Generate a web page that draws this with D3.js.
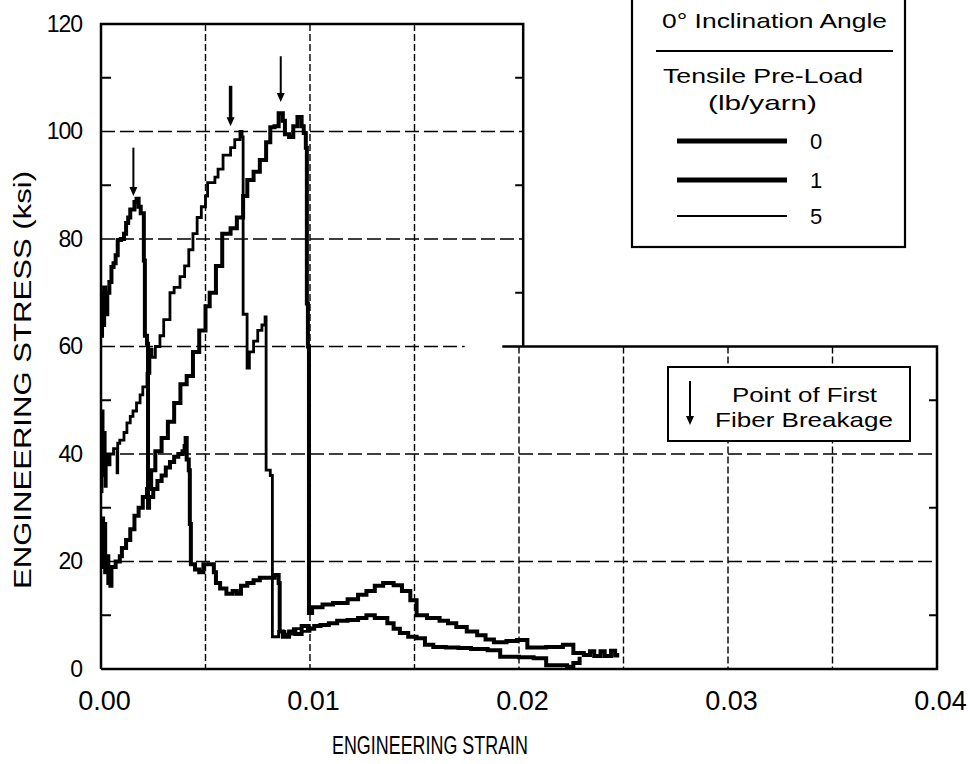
<!DOCTYPE html>
<html><head><meta charset="utf-8">
<script src="https://cdn.jsdelivr.net/npm/d3@7"></script>
<style>
html,body{margin:0;padding:0;background:#fff;}
svg{display:block;font-family:"Liberation Sans",Arial,sans-serif;}
text{fill:#000;}
</style></head>
<body><svg id="c" width="970" height="764"></svg>
<script>
// ---------- data ----------
const seriesNames = ["0", "1", "5"];
// 0 lb/yarn pre-load (peak ~103 ksi)
const load0 = [[0,20],[0.00005,28],[0.0001,19],[0.00015,27],[0.0002,18],[0.0003,21],[0.00035,16],[0.00045,15.5],[0.0005,19],[0.0007,20],[0.0009,21],[0.001,22.5],[0.0012,24],[0.0014,26],[0.0016,28.5],[0.0018,30],[0.002,32],[0.0022,33.5],[0.0024,37],[0.0026,40.5],[0.0029,43],[0.0032,46],[0.0035,49.5],[0.0038,53],[0.0041,54.5],[0.0044,59],[0.0047,63],[0.005,67.5],[0.0052,70],[0.0055,75],[0.0058,81],[0.0062,82],[0.0065,84],[0.0068,88],[0.007,91],[0.0073,92.5],[0.0076,94.7],[0.0079,98],[0.0081,100.8],[0.0083,101],[0.0085,103.4],[0.0087,102],[0.0088,99.5],[0.009,99],[0.0092,101],[0.0094,102.7],[0.0096,101],[0.0097,99.7],[0.0098,97],[0.00985,68],[0.0099,60],[0.00995,10.4],[0.0101,11.5],[0.0106,12],[0.0111,12.3],[0.0118,13],[0.0123,13.8],[0.0127,14.5],[0.0131,15.5],[0.0135,16],[0.014,15.6],[0.0144,14.5],[0.0148,12.8],[0.0151,10],[0.0156,9.5],[0.0162,9],[0.0166,8.5],[0.017,7.8],[0.0175,7],[0.018,6.3],[0.0184,5.5],[0.0188,5],[0.0194,5.2],[0.0199,5.4],[0.0204,4],[0.0213,4.1],[0.0221,4.5],[0.0226,3],[0.0231,2.6],[0.0234,3.3],[0.0236,2.4],[0.0239,3.3],[0.0241,2.4],[0.0244,3.4],[0.0246,2.5],[0.0247,3]];
// 1 lb/yarn pre-load (first breakage ~87 ksi)
const load1 = [[0,62],[0.00005,70],[0.0001,64],[0.00015,71],[0.0002,66],[0.0003,70],[0.0004,72],[0.0005,74.8],[0.0006,75.5],[0.0007,77],[0.0008,79.8],[0.00095,80],[0.0011,81],[0.0012,83],[0.0013,84],[0.0014,85.5],[0.0016,86.9],[0.0017,87.5],[0.0018,86],[0.0019,84.8],[0.00205,76],[0.0021,62],[0.0022,60.5],[0.00225,30],[0.0023,32],[0.0025,33.5],[0.0027,35],[0.0029,36],[0.0031,37.5],[0.0033,38.5],[0.0035,39.5],[0.0037,40],[0.0039,40.5],[0.004,41.5],[0.00405,43],[0.0041,39],[0.0042,37],[0.00425,27],[0.0043,19.5],[0.0045,18.5],[0.0047,18],[0.0049,19.5],[0.0052,19.5],[0.0054,18],[0.0055,16],[0.0057,15],[0.006,14],[0.0063,14.5],[0.0065,14],[0.0067,15.5],[0.007,16],[0.0073,16.5],[0.0076,17],[0.0079,17],[0.0083,17.5],[0.0085,16],[0.00855,7],[0.0087,6],[0.009,7],[0.0093,6.5],[0.0096,8],[0.0099,7.5],[0.0102,8],[0.0105,8.2],[0.0109,8.5],[0.0113,9],[0.0118,9.1],[0.0123,9.5],[0.0127,10],[0.0131,9.5],[0.0137,8.5],[0.014,7.5],[0.0143,6.7],[0.0147,6],[0.0151,5.7],[0.0155,4.5],[0.0159,4.1],[0.0165,4],[0.0171,3.9],[0.0177,3.7],[0.0185,3.5],[0.0191,2.3],[0.02,2.2],[0.0207,2],[0.0213,0.7],[0.0223,0.4],[0.0226,1.1],[0.0229,2.3]];
// 5 lb/yarn pre-load (peak ~100 ksi)
const load5 = [[0,33],[0.00005,48],[0.0001,36],[0.00015,44],[0.0002,34],[0.00025,40],[0.0003,38],[0.00043,40],[0.0006,41],[0.00077,36.5],[0.0008,42],[0.0009,42.6],[0.0011,44],[0.00124,45.8],[0.0014,47],[0.00153,48],[0.0017,49.5],[0.00187,51],[0.002,52.5],[0.0022,55],[0.00234,59.5],[0.00244,58],[0.0026,60],[0.00282,62],[0.003,65],[0.0033,70],[0.0035,71],[0.00378,73],[0.004,75],[0.0042,78],[0.0044,81],[0.0046,84],[0.0048,86],[0.005,88],[0.0051,90.5],[0.00545,91.5],[0.0056,93],[0.00584,95.6],[0.0062,97],[0.0064,98.5],[0.00665,100],[0.00675,99],[0.0068,66],[0.00699,56],[0.0071,59],[0.0073,61],[0.0075,63],[0.0077,64],[0.00785,65.5],[0.0079,37],[0.0081,36],[0.0082,6],[0.0085,7],[0.0088,6.5],[0.0092,7.5],[0.0096,7],[0.01,8]];
// points of first fiber breakage: [strain, arrow top stress, arrow tip stress]
const breakArrows = [[0.00155, 97, 88], [0.0062, 108.5, 101], [0.0086, 114, 105.5]];
const xTicks = [0, 0.01, 0.02, 0.03, 0.04];
const yTicks = [0, 20, 40, 60, 80, 100, 120];
const yMinor = [10, 30, 50, 70, 90, 110];
const xGrid = [0.005, 0.01, 0.015, 0.02, 0.025, 0.03, 0.035];
const yGrid = [20, 40, 60, 80, 100];

// ---------- layout ----------
const svg = d3.select("#c");
const x = d3.scaleLinear().domain([0, 0.04]).range([101, 937]);
const y = d3.scaleLinear().domain([0, 120]).range([669, 24]);
const xBreak = 0.0202;   // right edge of upper part of the frame
const yBreak = 60;       // bottom edge of upper-right cut-out

const g = svg.append("g");
// grid
xGrid.forEach(v => {
  g.append("line").attr("x1", x(v)).attr("x2", x(v))
    .attr("y1", v < 0.0195 ? y(120) : y(yBreak)).attr("y2", y(0))
    .attr("stroke", "#000").attr("stroke-width", 1.4).attr("stroke-dasharray", "7,3");
});
yGrid.forEach(v => {
  let x2 = x(0.04);
  if (v === 60) x2 = x(0.0174);
  if (v > 60) x2 = x(xBreak);
  g.append("line").attr("x1", x(0)).attr("x2", x2)
    .attr("y1", y(v)).attr("y2", y(v))
    .attr("stroke", "#000").attr("stroke-width", 1.6).attr("stroke-dasharray", "14,5");
});
// frame
const fl = d3.line().x(d=>x(d[0])).y(d=>y(d[1]));
g.append("path").attr("d", fl([[0,0],[0,120],[xBreak,120],[xBreak,yBreak]]))
  .attr("fill","none").attr("stroke","#000").attr("stroke-width",2.5);
g.append("path").attr("d", fl([[0.0192,yBreak],[0.04,yBreak],[0.04,0],[0,0]]))
  .attr("fill","none").attr("stroke","#000").attr("stroke-width",2.5);
// minor ticks
yMinor.forEach(v => {
  g.append("line").attr("x1", x(0)).attr("x2", x(0)+10).attr("y1", y(v)).attr("y2", y(v)).attr("stroke","#000").attr("stroke-width",2);
  if (v > 60) g.append("line").attr("x1", x(xBreak)).attr("x2", x(xBreak)-8).attr("y1", y(v)).attr("y2", y(v)).attr("stroke","#000").attr("stroke-width",2);
  if (v < 60) g.append("line").attr("x1", x(0.04)).attr("x2", x(0.04)-8).attr("y1", y(v)).attr("y2", y(v)).attr("stroke","#000").attr("stroke-width",2);
});

// axes (labels)
const ax = svg.append("g").attr("transform", `translate(0,${y(0)})`)
  .call(d3.axisBottom(x).tickValues(xTicks).tickFormat(d3.format(".2f")).tickSize(0).tickPadding(22));
ax.select(".domain").remove();
ax.selectAll("text").attr("font-size", 27).attr("font-family", "Liberation Sans, Arial, sans-serif").attr("fill","#000").attr("dx", 3);
const ay = svg.append("g").attr("transform", `translate(${x(0)},0)`)
  .call(d3.axisLeft(y).tickValues(yTicks).tickFormat(d3.format("d")).tickSize(0).tickPadding(19));
ay.select(".domain").remove();
ay.selectAll("text").attr("font-size", 23).attr("font-family", "Liberation Sans, Arial, sans-serif").attr("fill","#000").attr("letter-spacing", -1);

// axis titles
svg.append("text").attr("x", 430).attr("y", 754).attr("text-anchor","middle").attr("fill","#000")
  .attr("font-size", 25).attr("textLength", 196).attr("lengthAdjust","spacingAndGlyphs")
  .text("ENGINEERING STRAIN");
svg.append("text").attr("transform","translate(31,380) rotate(-90)").attr("text-anchor","middle").attr("fill","#000")
  .attr("font-size", 23).attr("textLength", 418).attr("lengthAdjust","spacingAndGlyphs")
  .text("ENGINEERING STRESS (ksi)");

// curves
const line = d3.line().x(d=>x(d[0])).y(d=>y(d[1])).curve(d3.curveStepAfter);
const seriesData = [load0, load1, load5];
const widths = {"0": 4, "1": 4, "5": 2.8};
seriesData.forEach((s, i) => {
  g.append("path").attr("d", line(s)).attr("fill","none").attr("stroke","#000")
    .attr("stroke-width", widths[seriesNames[i]]).attr("stroke-linejoin","miter");
});

// arrows
function arrow(px, yTop, yTip, w) {
  svg.append("line").attr("x1", px).attr("x2", px).attr("y1", yTop).attr("y2", yTip-7)
    .attr("stroke","#000").attr("stroke-width", w);
  svg.append("path").attr("d", `M${px-4},${yTip-9}L${px+4},${yTip-9}L${px},${yTip}Z`).attr("fill","#000");
}
breakArrows.forEach((a,i) => arrow(x(a[0]), y(a[1]), y(a[2]), i===1?3.5:2));

// legend 1
const L = svg.append("g");
L.append("rect").attr("x", 632).attr("y", -3).attr("width", 273).attr("height", 250)
  .attr("fill","#fff").attr("stroke","#000").attr("stroke-width", 2.2);
L.append("text").attr("x", 662).attr("y", 28).attr("font-size", 21).attr("textLength", 225).attr("lengthAdjust","spacingAndGlyphs").text("0° Inclination Angle");
L.append("line").attr("x1", 656).attr("x2", 893).attr("y1", 51).attr("y2", 51).attr("stroke","#000").attr("stroke-width", 2.2);
L.append("text").attr("x", 663).attr("y", 83).attr("font-size", 21).attr("textLength", 200).attr("lengthAdjust","spacingAndGlyphs").text("Tensile Pre-Load");
L.append("text").attr("x", 708).attr("y", 110).attr("font-size", 21).attr("textLength", 109).attr("lengthAdjust","spacingAndGlyphs").text("(lb/yarn)");
const legY = [141, 180, 216];
seriesNames.forEach((n, i) => {
  L.append("line").attr("x1", 677).attr("x2", 787).attr("y1", legY[i]).attr("y2", legY[i])
    .attr("stroke","#000").attr("stroke-width", n === "5" ? 2 : 5);
  L.append("text").attr("x", 816).attr("y", legY[i] + 8).attr("text-anchor","middle").attr("font-size", 22).text(n);
});

// legend 2
const L2 = svg.append("g");
L2.append("rect").attr("x", 668).attr("y", 367).attr("width", 242).attr("height", 74)
  .attr("fill","#fff").attr("stroke","#000").attr("stroke-width", 2);
L2.append("line").attr("x1", 690).attr("x2", 690).attr("y1", 381).attr("y2", 418).attr("stroke","#000").attr("stroke-width", 2);
L2.append("path").attr("d", "M686,416L694,416L690,425Z").attr("fill","#000");
L2.append("text").attr("x", 732).attr("y", 402).attr("font-size", 21).attr("textLength", 145).attr("lengthAdjust","spacingAndGlyphs").text("Point of First");
L2.append("text").attr("x", 715).attr("y", 427).attr("font-size", 21).attr("textLength", 178).attr("lengthAdjust","spacingAndGlyphs").text("Fiber Breakage");
</script></body></html>
